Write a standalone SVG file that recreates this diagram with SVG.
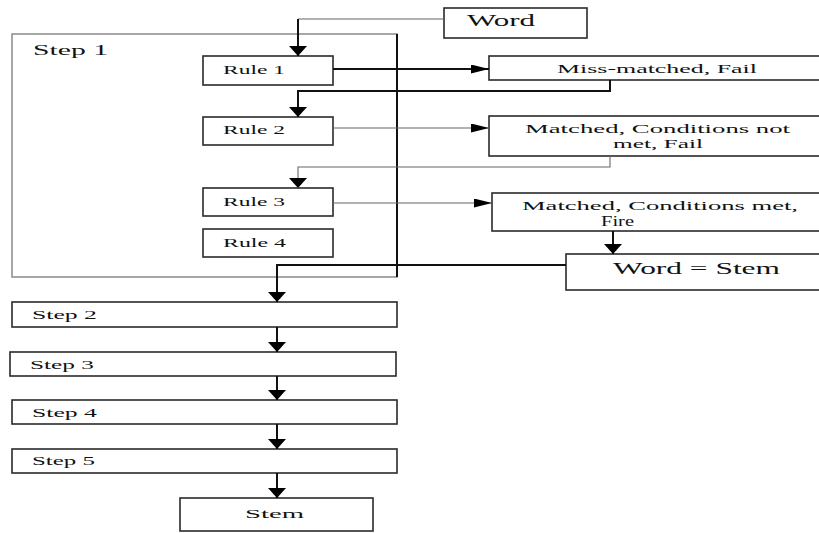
<svg xmlns="http://www.w3.org/2000/svg" width="819" height="533" viewBox="0 0 819 533">
<defs>
<marker id="av" markerUnits="userSpaceOnUse" markerWidth="11" markerHeight="20" refX="10" refY="9" orient="auto"><path d="M0,0 L10,9 L0,18 z" fill="#000"/></marker>
<marker id="ah" markerUnits="userSpaceOnUse" markerWidth="19" markerHeight="10" refX="18" refY="4.5" orient="auto"><path d="M0,0 L18,4.5 L0,9 z" fill="#000"/></marker>
<style>
.box{fill:#fff;stroke:#2a2a2a;stroke-width:1.6}
.grp{fill:none;stroke:#8a8a8a;stroke-width:1.5}
.t{font-family:"Liberation Serif","DejaVu Serif",serif;fill:#111}
.dark{fill:none;stroke:#111;stroke-width:2}
.thin{fill:none;stroke:#666;stroke-width:1.1}
</style>
</defs>
<rect width="819" height="533" fill="#fff"/>
<g id="step1">
<rect class="grp" x="12" y="34" width="385" height="243"/>
<line x1="397" y1="34" x2="397" y2="277" stroke="#111" stroke-width="2"/>
<text class="t" x="33" y="55" font-size="15" textLength="75" lengthAdjust="spacingAndGlyphs">Step  1</text>
</g>
<g id="word"><rect class="box" x="444" y="8" width="143" height="30"/><text class="t" x="467" y="26" font-size="16" textLength="68" lengthAdjust="spacingAndGlyphs">Word</text></g>
<g id="rule1"><rect class="box" x="203" y="56" width="130" height="29"/><text class="t" x="223" y="74" font-size="12.5" textLength="62" lengthAdjust="spacingAndGlyphs">Rule 1</text></g>
<g id="rule2"><rect class="box" x="203" y="117" width="130" height="28"/><text class="t" x="223" y="134" font-size="12.5" textLength="62" lengthAdjust="spacingAndGlyphs">Rule 2</text></g>
<g id="rule3"><rect class="box" x="203" y="188" width="130" height="28"/><text class="t" x="223" y="206" font-size="12.5" textLength="62" lengthAdjust="spacingAndGlyphs">Rule 3</text></g>
<g id="rule4"><rect class="box" x="203" y="229" width="130" height="28"/><text class="t" x="223" y="247" font-size="12.5" textLength="63" lengthAdjust="spacingAndGlyphs">Rule 4</text></g>
<g id="missmatched"><rect class="box" x="489" y="56" width="340" height="24"/><text class="t" x="557" y="73" font-size="13.5" textLength="200" lengthAdjust="spacingAndGlyphs">Miss-matched, Fail</text></g>
<g id="matched-notmet"><rect class="box" x="489" y="116" width="340" height="40"/><text class="t" x="525" y="133" font-size="13" textLength="265" lengthAdjust="spacingAndGlyphs">Matched, Conditions not</text><text class="t" x="613" y="148" font-size="13" textLength="90" lengthAdjust="spacingAndGlyphs">met, Fail</text></g>
<g id="matched-met"><rect class="box" x="492" y="193" width="337" height="38"/><text class="t" x="522" y="210" font-size="13" textLength="276" lengthAdjust="spacingAndGlyphs">Matched, Conditions met,</text><text class="t" x="601" y="226" font-size="15" textLength="33" lengthAdjust="spacingAndGlyphs">Fire</text></g>
<g id="wordstem"><rect class="box" x="566" y="254" width="263" height="36"/><text class="t" x="613" y="274" font-size="16" textLength="167" lengthAdjust="spacingAndGlyphs">Word = Stem</text></g>
<g id="step2"><rect class="box" x="12" y="302" width="385" height="25"/><text class="t" x="32" y="319" font-size="12.5" textLength="65" lengthAdjust="spacingAndGlyphs">Step 2</text></g>
<g id="step3"><rect class="box" x="10" y="352" width="386" height="24"/><text class="t" x="30" y="369" font-size="12.5" textLength="64" lengthAdjust="spacingAndGlyphs">Step 3</text></g>
<g id="step4"><rect class="box" x="12" y="400" width="385" height="24"/><text class="t" x="32" y="417" font-size="12.5" textLength="65" lengthAdjust="spacingAndGlyphs">Step 4</text></g>
<g id="step5"><rect class="box" x="12" y="449" width="385" height="24"/><text class="t" x="32" y="465" font-size="12.5" textLength="63" lengthAdjust="spacingAndGlyphs">Step 5</text></g>
<g id="stem"><rect class="box" x="180" y="498" width="193" height="33"/><text class="t" x="245" y="518" font-size="13" textLength="59" lengthAdjust="spacingAndGlyphs">Stem</text></g>
<g id="connectors">
<path class="thin" d="M444,19 H298"/>
<path class="dark" d="M298,19 V56" marker-end="url(#av)"/>
<path class="dark" d="M333,69 H489" marker-end="url(#ah)"/>
<path class="dark" d="M610,80 V91 H298 V117" marker-end="url(#av)"/>
<path class="thin" d="M333,128 H489" marker-end="url(#ah)"/>
<path class="thin" d="M610,156 V167 H298 V188" marker-end="url(#av)"/>
<path class="thin" d="M333,203 H492" marker-end="url(#ah)"/>
<path class="dark" d="M613,231 V254" marker-end="url(#av)"/>
<path class="dark" d="M566,265 H277 V302" marker-end="url(#av)"/>
<path class="dark" d="M277,327 V352" marker-end="url(#av)"/>
<path class="dark" d="M277,376 V400" marker-end="url(#av)"/>
<path class="dark" d="M277,424 V449" marker-end="url(#av)"/>
<path class="dark" d="M277,473 V498" marker-end="url(#av)"/>
</g>
</svg>
